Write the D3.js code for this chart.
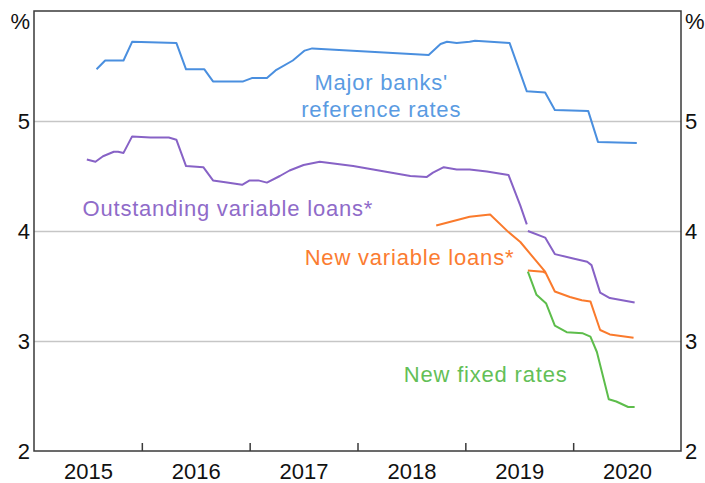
<!DOCTYPE html>
<html>
<head>
<meta charset="utf-8">
<script src="https://cdn.jsdelivr.net/npm/d3@7"></script>
<style>
  body { margin: 0; background: #fff; }
  text { font-family: "Liberation Sans", Arial, sans-serif; }
</style>
</head>
<body>
<div id="chart"></div>
<script>
// Values, x in decimal years, y in per cent
const majorBanks = [
    [2015.58, 5.47], [2015.66, 5.55], [2015.83, 5.55], [2015.91, 5.72],
    [2016.32, 5.71], [2016.41, 5.47], [2016.58, 5.47], [2016.66, 5.36],
    [2016.94, 5.36], [2017.02, 5.39], [2017.16, 5.39], [2017.24, 5.46],
    [2017.40, 5.55], [2017.51, 5.64], [2017.58, 5.66], [2018.66, 5.60],
    [2018.77, 5.70], [2018.83, 5.72], [2018.92, 5.71], [2019.04, 5.72],
    [2019.09, 5.73], [2019.41, 5.71], [2019.57, 5.27], [2019.74, 5.26],
    [2019.83, 5.10], [2020.14, 5.09], [2020.23, 4.81], [2020.59, 4.80]
];

// null marks the break in the series
const outstandingVariable = [
    [2015.49, 4.65], [2015.57, 4.63], [2015.64, 4.68], [2015.74, 4.72],
    [2015.78, 4.72], [2015.83, 4.71], [2015.91, 4.86], [2016.08, 4.85],
    [2016.25, 4.85], [2016.32, 4.83], [2016.41, 4.59], [2016.57, 4.58],
    [2016.66, 4.46], [2016.79, 4.44], [2016.93, 4.42], [2017.00, 4.46],
    [2017.08, 4.46], [2017.16, 4.44], [2017.28, 4.50], [2017.37, 4.55],
    [2017.50, 4.60], [2017.65, 4.63], [2017.96, 4.59], [2018.49, 4.50],
    [2018.64, 4.49], [2018.70, 4.53], [2018.80, 4.58], [2018.92, 4.56],
    [2019.04, 4.56], [2019.20, 4.54], [2019.40, 4.51], [2019.51, 4.23],
    [2019.57, 4.06], null,
    [2019.58, 4.00], [2019.74, 3.94], [2019.83, 3.79], [2020.00, 3.75],
    [2020.13, 3.72], [2020.17, 3.69], [2020.25, 3.44], [2020.34, 3.39],
    [2020.57, 3.35]
];

const newVariable = [
    [2018.73, 4.05], [2019.04, 4.13], [2019.23, 4.15], [2019.40, 3.99],
    [2019.51, 3.90], [2019.74, 3.63], [2019.83, 3.45], [2019.97, 3.40],
    [2020.08, 3.37], [2020.16, 3.36], [2020.25, 3.10], [2020.34, 3.06],
    [2020.56, 3.03], null,
    [2019.58, 3.64], [2019.72, 3.63], [2019.74, 3.62]
];

const newFixed = [
    [2019.58, 3.63], [2019.66, 3.42], [2019.75, 3.34], [2019.83, 3.14],
    [2019.94, 3.08], [2020.09, 3.07], [2020.16, 3.04], [2020.22, 2.90],
    [2020.33, 2.47], [2020.40, 2.45], [2020.51, 2.40], [2020.57, 2.40]
];

const yearTicks = [2016, 2017, 2018, 2019, 2020];
const yearLabels = [2015, 2016, 2017, 2018, 2019, 2020];
const yTicks = [2, 3, 4, 5];
const gridValues = [3, 4, 5];

const seriesList = [
    { data: majorBanks, color: '#4a8fdf' },
    { data: outstandingVariable, color: '#8762c6' },
    { data: newVariable, color: '#fa7a2c' },
    { data: newFixed, color: '#5dbd4b' }
];

const labelList = [
    { lines: ["Major banks'", 'reference rates'], x: 2018.22, y: [5.28, 5.04], anchor: 'middle', color: '#5a9be2' },
    { lines: ['Outstanding variable loans*'], x: 2015.45, y: [4.14], anchor: 'start', color: '#8f6bc9' },
    { lines: ['New variable loans*'], x: 2017.51, y: [3.69], anchor: 'start', color: '#fb7c31' },
    { lines: ['New fixed rates'], x: 2018.43, y: [2.63], anchor: 'start', color: '#63bf57' }
];

const width = 705, height = 483;
const margin = { top: 11, right: 24, bottom: 32, left: 34 };
const innerW = width - margin.left - margin.right;
const innerH = height - margin.top - margin.bottom;

const svg = d3.select('#chart').append('svg')
    .attr('width', width)
    .attr('height', height);

const g = svg.append('g')
    .attr('transform', `translate(${margin.left}, ${margin.top})`);

const x = d3.scaleLinear().domain([2015, 2021]).range([0, innerW]);
const y = d3.scaleLinear().domain([2, 6]).range([innerH, 0]);

// Gridlines
g.append('g')
    .attr('class', 'grid')
    .call(d3.axisLeft(y).tickValues(gridValues).tickSize(-innerW).tickFormat(''))
    .call(s => s.select('.domain').remove())
    .selectAll('line')
    .attr('stroke', '#c6c6c6')
    .attr('stroke-width', 1.5);

// Lines
const line = d3.line()
    .defined(d => d !== null)
    .x(d => x(d[0]))
    .y(d => y(d[1]));

seriesList.forEach(s => {
    g.append('path')
        .datum(s.data)
        .attr('fill', 'none')
        .attr('stroke', s.color)
        .attr('stroke-width', 2)
        .attr('stroke-linejoin', 'round')
        .attr('d', line);
});

// Frame
g.append('rect')
    .attr('width', innerW)
    .attr('height', innerH)
    .attr('fill', 'none')
    .attr('stroke', '#3a3a3a')
    .attr('stroke-width', 1.5);

// Year ticks, pointing inward
g.append('g')
    .attr('transform', `translate(0, ${innerH})`)
    .call(d3.axisBottom(x).tickValues(yearTicks).tickSize(-8).tickFormat(''))
    .call(s => s.select('.domain').remove())
    .selectAll('line')
    .attr('stroke', '#3a3a3a')
    .attr('stroke-width', 1.5);

// Year labels, centred on each year
g.append('g')
    .attr('transform', `translate(0, ${innerH})`)
    .call(d3.axisBottom(x).tickValues(yearLabels.map(d => d + 0.5)).tickSize(0).tickPadding(12).tickFormat(d => Math.floor(d)))
    .call(s => s.select('.domain').remove())
    .selectAll('text')
    .attr('font-size', 22)
    .attr('font-family', '"Liberation Sans", Arial, sans-serif')
    .attr('fill', '#111');

// Left and right value axes
g.append('g')
    .call(d3.axisLeft(y).tickValues(yTicks).tickSize(0).tickPadding(4).tickFormat(d3.format('d')))
    .call(s => s.select('.domain').remove())
    .selectAll('text')
    .attr('font-size', 22)
    .attr('font-family', '"Liberation Sans", Arial, sans-serif')
    .attr('fill', '#111');

g.append('g')
    .attr('transform', `translate(${innerW}, 0)`)
    .call(d3.axisRight(y).tickValues(yTicks).tickSize(0).tickPadding(4).tickFormat(d3.format('d')))
    .call(s => s.select('.domain').remove())
    .selectAll('text')
    .attr('font-size', 22)
    .attr('font-family', '"Liberation Sans", Arial, sans-serif')
    .attr('fill', '#111');

// Unit labels
svg.append('text')
    .attr('x', margin.left - 4)
    .attr('y', 29)
    .attr('text-anchor', 'end')
    .attr('font-size', 22)
    .attr('fill', '#111')
    .text('%');

svg.append('text')
    .attr('x', margin.left + innerW + 4)
    .attr('y', 29)
    .attr('text-anchor', 'start')
    .attr('font-size', 22)
    .attr('fill', '#111')
    .text('%');

// Series labels
labelList.forEach(l => {
    l.lines.forEach((t, i) => {
        g.append('text')
            .attr('x', x(l.x))
            .attr('y', y(l.y[i]))
            .attr('text-anchor', l.anchor)
            .attr('font-size', 22)
            .attr('letter-spacing', 0.8)
            .attr('fill', l.color)
            .text(t);
    });
});
</script>
</body>
</html>
